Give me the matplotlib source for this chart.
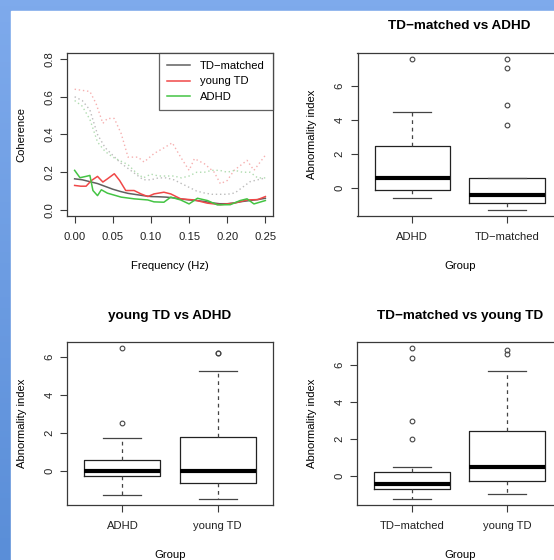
import numpy as np
import matplotlib.pyplot as plt
from matplotlib.patches import Rectangle

plt.rcParams['font.family'] = ['Liberation Sans', 'DejaVu Sans']

# coherence curves (solid = group mean, dotted = upper band)
freq_td = [0.0, 0.01, 0.02, 0.03, 0.04, 0.05, 0.06, 0.07, 0.08, 0.09, 0.10, 0.11, 0.12,
           0.13, 0.14, 0.15, 0.16, 0.17, 0.18, 0.19, 0.20, 0.21, 0.22, 0.23, 0.24, 0.25]
coh_td = [0.165, 0.16, 0.15, 0.14, 0.125, 0.11, 0.098, 0.088, 0.082, 0.076, 0.071, 0.07, 0.068,
          0.064, 0.058, 0.053, 0.05, 0.045, 0.038, 0.033, 0.033, 0.038, 0.045, 0.05, 0.055, 0.062]

freq_young = [0.0, 0.008, 0.015, 0.022, 0.03, 0.037, 0.043, 0.052, 0.059, 0.067, 0.078, 0.087,
              0.096, 0.104, 0.117, 0.126, 0.139, 0.157, 0.174, 0.191, 0.209, 0.226, 0.24, 0.25]
coh_young = [0.13, 0.126, 0.126, 0.156, 0.178, 0.148, 0.165, 0.192, 0.156, 0.103, 0.103, 0.085,
             0.071, 0.085, 0.094, 0.085, 0.059, 0.053, 0.036, 0.028, 0.036, 0.053, 0.055, 0.071]

freq_adhd = [0.0, 0.007, 0.015, 0.02, 0.024, 0.03, 0.035, 0.043, 0.061, 0.078, 0.096, 0.104,
             0.117, 0.126, 0.139, 0.15, 0.161, 0.174, 0.187, 0.204, 0.217, 0.226, 0.235, 0.25]
coh_adhd = [0.21, 0.171, 0.178, 0.183, 0.103, 0.076, 0.107, 0.089, 0.068, 0.059, 0.053, 0.043,
            0.041, 0.068, 0.053, 0.032, 0.062, 0.05, 0.027, 0.028, 0.05, 0.059, 0.032, 0.05]

freq_young_up = [0.0, 0.02, 0.028, 0.037, 0.043, 0.052, 0.061, 0.07, 0.083, 0.091, 0.104, 0.117,
                 0.128, 0.139, 0.15, 0.157, 0.17, 0.183, 0.191, 0.2, 0.209, 0.226, 0.235, 0.25]
coh_young_up = [0.64, 0.628, 0.565, 0.459, 0.485, 0.485, 0.405, 0.28, 0.28, 0.254, 0.299, 0.329,
                0.356, 0.28, 0.21, 0.272, 0.245, 0.2, 0.139, 0.156, 0.21, 0.263, 0.21, 0.29]

freq_band = [0.0, 0.01, 0.02, 0.03, 0.04, 0.05, 0.06, 0.07, 0.08, 0.09, 0.10, 0.11, 0.12,
             0.13, 0.14, 0.15, 0.16, 0.17, 0.18, 0.19, 0.20, 0.21, 0.22, 0.23, 0.24, 0.25]
coh_td_up = [0.6, 0.58, 0.53, 0.40, 0.33, 0.29, 0.25, 0.22, 0.19, 0.16, 0.16, 0.17, 0.17,
             0.16, 0.14, 0.12, 0.10, 0.09, 0.083, 0.083, 0.083, 0.09, 0.12, 0.15, 0.16, 0.17]
coh_adhd_up = [0.58, 0.55, 0.48, 0.36, 0.31, 0.28, 0.26, 0.24, 0.2, 0.17, 0.19, 0.18, 0.18,
               0.18, 0.17, 0.18, 0.2, 0.2, 0.21, 0.21, 0.2, 0.21, 0.2, 0.2, 0.17, 0.17]

# boxplot summaries: [whislo, q1, med, q3, whishi], fliers
box_titles = ['TD\u2212matched vs ADHD', 'young TD vs ADHD', 'TD\u2212matched vs young TD']
box_groups = [['ADHD', 'TD\u2212matched'], ['ADHD', 'young TD'], ['TD\u2212matched', 'young TD']]
box_stats = [
    [[-0.59, -0.12, 0.61, 2.50, 4.47], [-1.28, -0.90, -0.43, 0.57, 0.61]],
    [[-1.27, -0.30, 0.0, 0.54, 1.71], [-1.50, -0.65, 0.0, 1.78, 5.23]],
    [[-1.22, -0.66, -0.39, 0.25, 0.50], [-0.93, -0.25, 0.50, 2.42, 5.64]],
]
box_fliers = [
    [[7.58], [7.58, 7.05, 4.88, 3.68]],
    [[2.51, 6.44], [6.18, 6.20]],
    [[6.88, 6.36, 2.95, 2.01], [6.77, 6.56]],
]

W, H = 554, 560
fig = plt.figure(figsize=(W / 100, H / 100), dpi=100)

# blue slide frame
bg = fig.add_axes([0, 0, 1, 1], zorder=-5)
grad = np.linspace(0, 1, 100).reshape(-1, 1)
bg.imshow(grad, aspect='auto', extent=[0, 1, 0, 1], origin='upper',
          cmap=plt.matplotlib.colors.LinearSegmentedColormap.from_list('b', ['#7eaaec', '#5a8ed8']))
bg.add_patch(Rectangle((11 / W, 0), 1, 1 - 11 / H, color='white'))
bg.set_xlim(0, 1)
bg.set_ylim(0, 1)
bg.axis('off')

fs = 8.1
frame = '#3a3a3a'


def r_style(ax):
    for s in ax.spines.values():
        s.set_color(frame)
        s.set_linewidth(0.9)
    ax.tick_params(length=4.8, width=0.8, color=frame, labelsize=fs, labelcolor='#222222')
    ax.tick_params(axis='x', pad=6.5)
    ax.tick_params(axis='y', pad=4.5)
    for lab in ax.get_yticklabels():
        lab.set_rotation(90)
        lab.set_va('center')


def pos(left, top, right, bottom):
    return [left / W, 1 - bottom / H, (right - left) / W, (bottom - top) / H]


# coherence panel
ax = fig.add_axes(pos(67, 53, 273, 216))
ax.plot(freq_young_up, coh_young_up, color='#f6b0b0', lw=1, linestyle=(0, (1, 2)))
ax.plot(freq_td, coh_td, color='#606060', lw=1.1, label='TD\u2212matched')
ax.plot(freq_young, coh_young, color='#f04848', lw=1.1, label='young TD')
ax.plot(freq_adhd, coh_adhd, color='#44c444', lw=1.1, label='ADHD')
ax.plot(freq_band, coh_td_up, color='#bcbcbc', lw=1, linestyle=(0, (1, 2)))
ax.plot(freq_band, coh_adhd_up, color='#b0dcb0', lw=1, linestyle=(0, (1, 2)))
ax.set_xlim(-0.01, 0.26)
ax.set_ylim(-0.032, 0.832)
ax.set_xticks([0.0, 0.05, 0.10, 0.15, 0.20, 0.25])
ax.set_xticklabels(['0.00', '0.05', '0.10', '0.15', '0.20', '0.25'])
ax.set_yticks([0.0, 0.2, 0.4, 0.6, 0.8])
ax.set_yticklabels(['0.0', '0.2', '0.4', '0.6', '0.8'])
r_style(ax)
ax.set_xlabel('Frequency (Hz)', fontsize=fs, labelpad=14)
ax.set_ylabel('Coherence', fontsize=fs, labelpad=12.5)
leg = ax.legend(loc='upper right', fontsize=fs, frameon=True, fancybox=False,
                borderaxespad=0, handlelength=2.0, handletextpad=0.9,
                labelspacing=0.45, borderpad=0.75)
leg.get_frame().set_edgecolor(frame)
leg.get_frame().set_linewidth(0.9)

# boxplot panels
panel_pos = [pos(357.5, 53, 562, 216), pos(67.3, 342.3, 272.7, 505), pos(357.3, 342.3, 562, 505)]
for i in range(3):
    ax = fig.add_axes(panel_pos[i])
    stats = []
    for j in range(2):
        lo, q1, med, q3, hi = box_stats[i][j]
        stats.append(dict(whislo=lo, q1=q1, med=med, q3=q3, whishi=hi,
                          fliers=box_fliers[i][j], label=box_groups[i][j]))
    ax.bxp(stats, positions=[1, 2], widths=0.8, capwidths=0.4,
           boxprops=dict(color='#222222', lw=0.9),
           medianprops=dict(color='black', lw=3, solid_capstyle='butt'),
           whiskerprops=dict(color='#444444', lw=0.9, linestyle=(0, (3, 3))),
           capprops=dict(color='#444444', lw=0.9),
           flierprops=dict(marker='o', markerfacecolor='none', markeredgecolor='#444444',
                           markersize=3.4, markeredgewidth=0.8))
    allv = [v for s in box_stats[i] for v in s] + [v for f in box_fliers[i] for v in f]
    lo, hi = min(allv), max(allv)
    ext = 0.04 * (hi - lo)
    ax.set_ylim(lo - ext, hi + ext)
    ax.set_xlim(0.42, 2.58)
    ax.set_yticks([0, 2, 4, 6])
    ax.set_xticks([1, 2])
    ax.set_xticklabels(box_groups[i])
    r_style(ax)
    ax.set_title(box_titles[i], fontsize=9.7, fontweight='bold', pad=17)
    ax.set_xlabel('Group', fontsize=fs, labelpad=14)
    ax.set_ylabel('Abnormality index', fontsize=fs, labelpad=12.5)

fig.savefig('out.png', dpi=100)
